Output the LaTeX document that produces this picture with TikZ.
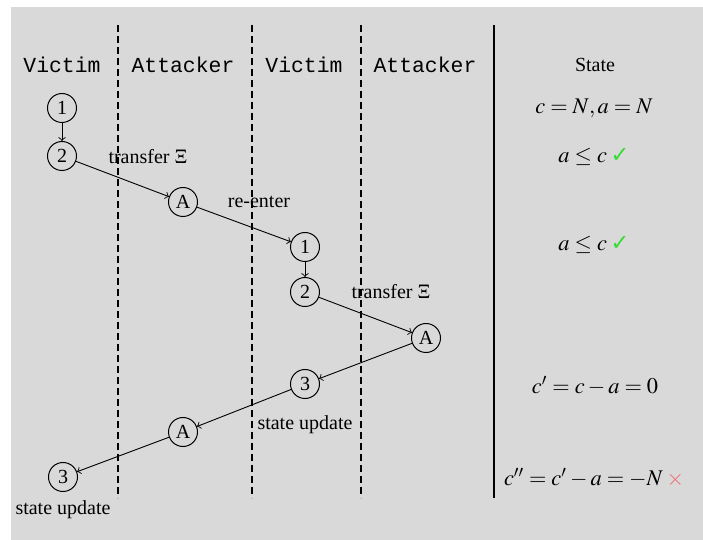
\documentclass[tikz,border=0pt]{standalone}
\usepackage{mathptmx}
\usepackage{fontspec}
\setmainfont{Liberation Serif}
\setmonofont[Scale=1.07]{Liberation Mono}
\newfontfamily\symfont{DejaVu Sans}
\usetikzlibrary{positioning}
\definecolor{bggray}{HTML}{D9D9D9}
\definecolor{okgreen}{HTML}{33DD33}
\definecolor{badred}{HTML}{F06A6A}

\tikzset{
  stp/.style={circle,draw,line width=0.5pt,inner sep=0pt,minimum size=14.5pt},
  lane/.style={font=\ttfamily},
  lanesep/.style={dash pattern=on 3.5pt off 2pt,line width=0.7pt},
  flow/.style={->,line width=0.45pt},
  stmath/.style={font=\fontsize{11.2pt}{13pt}\selectfont},
}

\begin{document}
\begin{tikzpicture}[x=0.5pt,y=-0.5pt]
  \useasboundingbox (0,0) rectangle (703,540);
  \fill[bggray] (11,7) rectangle (703,540);

  % lanes
  \foreach \x in {118,252,361} {
    \draw[lanesep] (\x,25) -- (\x,498);
  }
  \draw[line width=0.7pt] (494,25) -- (494,498);
  \node[lane] (hv1) at (62,65) {Victim};
  \node[lane] (ha1) at (183,65) {Attacker};
  \node[lane] (hv2) at (304,65) {Victim};
  \node[lane] (ha2) at (425,65) {Attacker};
  \node (hst) at (595,65) {State};

  % steps
  \node[stp] (s1) at (62,108) {1};
  \node[stp] (s2) at (62,156) {2};
  \node[stp] (atk1) at (183,202) {A};
  \node[stp] (r1) at (305,247) {1};
  \node[stp] (r2) at (305,292) {2};
  \node[stp] (atk2) at (426,338) {A};
  \node[stp] (r3) at (305,384) {3};
  \node[stp] (atk3) at (183,432) {A};
  \node[stp] (s3) at (63,477) {3};

  \draw[flow] (s1) -- (s2);
  \draw[flow] (s2) -- (atk1);
  \draw[flow] (atk1) -- (r1);
  \draw[flow] (r1) -- (r2);
  \draw[flow] (r2) -- (atk2);
  \draw[flow] (atk2) -- (r3);
  \draw[flow] (r3) -- (atk3);
  \draw[flow] (atk3) -- (s3);

  \node (t1) at (148,157) {transfer $\Xi$};
  \node (re) at (259,202) {re-enter};
  \node (t2) at (391,292) {transfer $\Xi$};
  \node[below=5pt of r3] (up1) {state update};
  \node[below=1pt of s3] (up2) {state update};

  % state column
  \node[stmath] (st0) at (594,108) {$c=N,a=N$};
  \node[stmath] (st1) at (594,157) {$a\leq c$\,{\symfont\textcolor{okgreen}{✓}}};
  \node[stmath] (st2) at (594,245) {$a\leq c$\,{\symfont\textcolor{okgreen}{✓}}};
  \node[stmath] (st3) at (595,386) {$c'=c-a=0$};
  \node[stmath] (st4) at (594,478) {$c''=c'-a=-N$\,\textcolor{badred}{$\times$}};
\end{tikzpicture}
\end{document}
